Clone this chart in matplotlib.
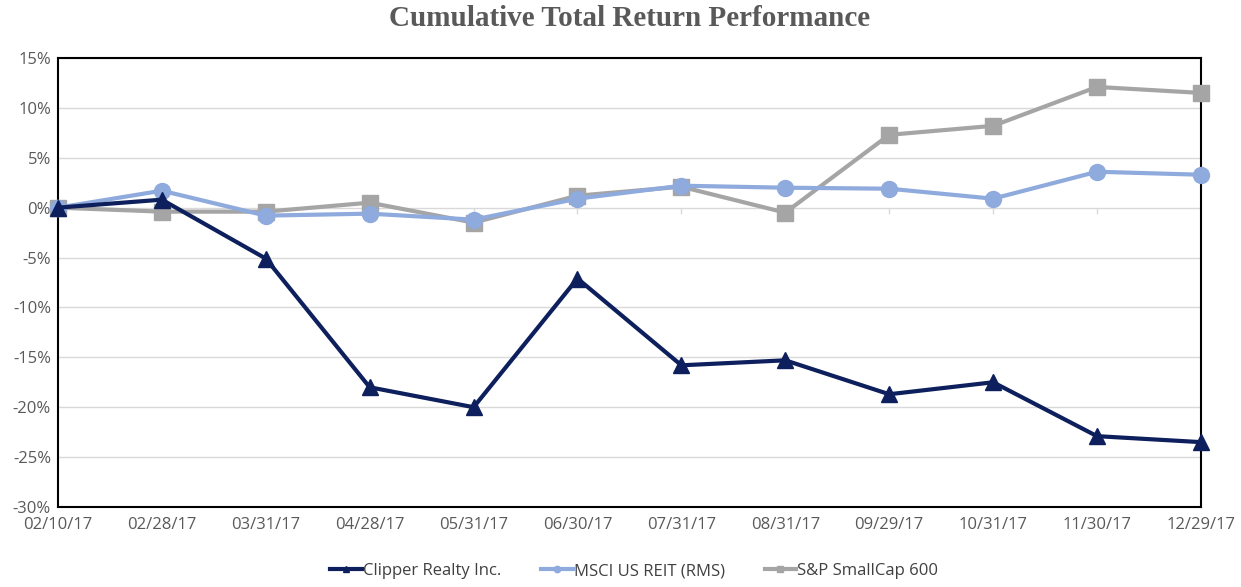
import numpy as np
import matplotlib.pyplot as plt
from matplotlib.ticker import FuncFormatter

dates = ['02/10/17', '02/28/17', '03/31/17', '04/28/17', '05/31/17', '06/30/17',
         '07/31/17', '08/31/17', '09/29/17', '10/31/17', '11/30/17', '12/29/17']
clipper = [0.0, 0.8, -5.1, -18.0, -20.0, -7.1, -15.8, -15.3, -18.7, -17.5, -22.9, -23.5]
msci = [0.0, 1.7, -0.8, -0.6, -1.2, 0.9, 2.2, 2.0, 1.9, 0.9, 3.6, 3.3]
sp600 = [0.0, -0.4, -0.4, 0.5, -1.5, 1.2, 2.1, -0.5, 7.3, 8.2, 12.1, 11.5]

plt.rcParams['font.family'] = ['Open Sans', 'DejaVu Sans']

fig = plt.figure(figsize=(12.41, 5.87), dpi=100)
ax = fig.add_axes([0.0467, 0.1363, 0.921, 0.7649])

x = np.arange(len(dates))

# gridlines
ax.set_yticks(np.arange(-30, 16, 5))
ax.yaxis.grid(True, color='#d9d9d9', linewidth=1)
ax.set_axisbelow(True)

# small category ticks on the zero line
ax.vlines(x, -0.6, 0, color='#d9d9d9', linewidth=1, zorder=1)

ax.plot(x, sp600, color='#a5a5a5', linewidth=3, marker='s', markersize=12,
        label='S&P SmallCap 600', clip_on=False, zorder=3)
ax.plot(x, msci, color='#8faadc', linewidth=3, marker='o', markersize=11.5,
        label='MSCI US REIT (RMS)', clip_on=False, zorder=4)
ax.plot(x, clipper, color='#0d1f5c', linewidth=3, marker='^', markersize=11,
        label='Clipper Realty Inc.', clip_on=False, zorder=5)

ax.set_xlim(0, len(dates) - 1)
ax.set_ylim(-30, 15)
ax.set_xticks(x)
ax.set_xticklabels(dates)
ax.yaxis.set_major_formatter(FuncFormatter(lambda v, p: f'{v:.0f}%'))
ax.tick_params(axis='both', length=0, labelsize=12, colors='#595959', pad=5)
ax.tick_params(axis='x', pad=7)

for s in ax.spines.values():
    s.set_color('black')
    s.set_linewidth(1.5)

fig.text(0.507, 0.968, 'Cumulative Total Return Performance', ha='center', va='center',
         fontsize=21, fontweight='bold', color='#595959', family='Liberation Serif')

h, l = ax.get_legend_handles_labels()
leg = fig.legend(h[::-1], l[::-1], loc='center', bbox_to_anchor=(0.511, 0.027), ncol=3,
                 frameon=False, fontsize=12, handlelength=1.9, handletextpad=0.05,
                 columnspacing=2.4, markerscale=0.4)
for t in leg.get_texts():
    t.set_color('#404040')

fig.savefig('out.png', dpi=100, facecolor='white')
